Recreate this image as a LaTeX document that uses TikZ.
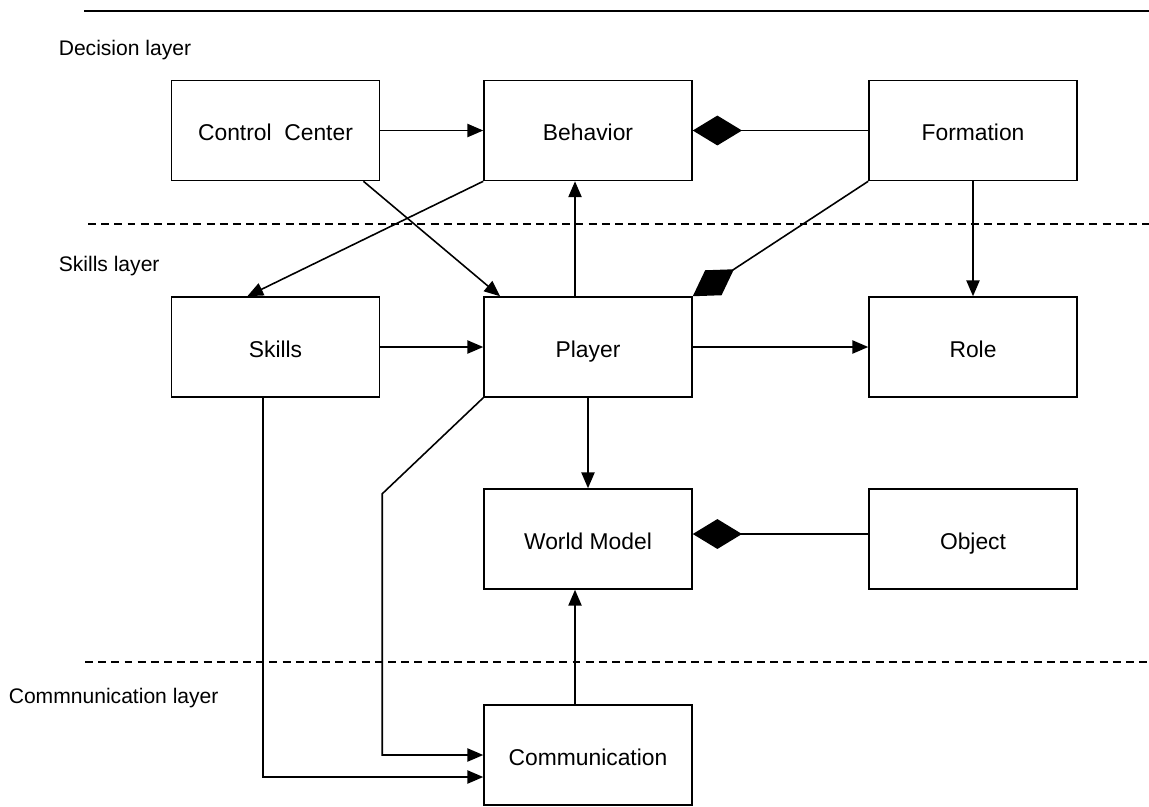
\documentclass[tikz,border=0pt]{standalone}
\usepackage{fontspec}
\setmainfont{Liberation Sans}
\usetikzlibrary{arrows.meta}

\begin{document}
\begin{tikzpicture}[x=0.02cm, y=-0.02cm, line width=0.9pt,
		box/.style={draw, minimum width=4.16cm, minimum height=2cm, inner sep=0pt, text height=11.5pt, text depth=0pt, font=\fontsize{13}{15}\selectfont},
		layer/.style={anchor=base west, inner sep=0pt, font=\fontsize{12}{14}\selectfont},
		arr/.style={-{Triangle[length=9pt,width=7.5pt]}},
		comp/.style={-{Diamond[length=28pt,width=17pt]}},
		sep/.style={dash pattern=on 4.5pt off 3pt}]
			\useasboundingbox (0,0) rectangle (1149,806);
			% layers
			\draw (84,11) -- (1149,11);
			\draw [sep] (88,224) -- (1149,224);
			\draw [sep] (85,662) -- (1149,662);
			\node [layer] (ld) at (58,55) {Decision layer};
			\node [layer] (ls) at (58,271) {Skills layer};
			\node [layer] (lc) at (8,703) {Commnunication layer};
			% boxes
			\node [box] (cc) at (275.5,130.5) {Control\ \ Center};
			\node [box] (beh) at (588,130.5) {Behavior};
			\node [box] (form) at (973,130.5) {Formation};
			\node [box] (skills) at (275.5,347) {Skills};
			\node [box] (player) at (588,347) {Player};
			\node [box] (role) at (973,347) {Role};
			\node [box] (wm) at (588,539) {World Model};
			\node [box] (obj) at (973,539) {Object};
			\node [box] (comm) at (588,755) {Communication};
			% links
			\draw [arr] (cc.east) -- (beh.west);
			\draw [comp] (form.west) -- (beh.east);
			\draw [arr] (cc.-30) -- (player.150);
			\draw [arr] (beh.south west) -- (skills.119);
			\draw [arr] ([xshift=-0.26cm]player.north) -- ([xshift=-0.26cm]beh.south);
			\draw [comp] (form.south west) -- (player.north east);
			\draw [arr] (form.south) -- (role.north);
			\draw [arr] (skills.east) -- (player.west);
			\draw [arr] (player.east) -- (role.west);
			\draw [arr] (player.south) -- (wm.north);
			\draw [comp] ([yshift=0.1cm]obj.west) -- ([yshift=0.1cm]wm.east);
			\draw [arr] ([xshift=-0.26cm]comm.north) -- ([xshift=-0.26cm]wm.south);
			\draw [arr] ([xshift=-0.25cm]skills.south) |- ([yshift=-0.44cm]comm.west);
			\draw [arr] (player.south west) -- ++(-101,96) |- (comm.west);
		\end{tikzpicture}
\end{document}
